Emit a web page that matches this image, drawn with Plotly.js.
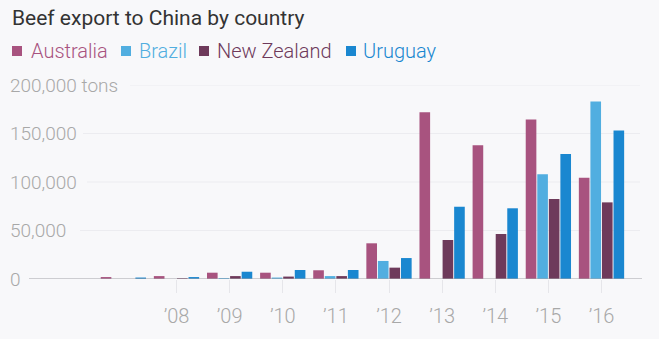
<!DOCTYPE html>
<html>
<head>
<meta charset="utf-8">
<script src="https://cdn.plot.ly/plotly-3.0.1.min.js"></script>
<style>
  html, body { margin: 0; padding: 0; background: #f8f8fa; }
  #chart { width: 659px; height: 339px; }
</style>
</head>
<body>
<div id="chart"></div>
<script>
// ---- data ----
const years = [2007, 2008, 2009, 2010, 2011, 2012, 2013, 2014, 2015, 2016];
const australia  = [2000, 3000, 6500, 6500, 9000, 36800, 172000, 138000, 164500, 104500];
const brazil     = [0, 0, 1000, 1500, 3000, 18600, 0, 0, 108000, 183000];
const newZealand = [0, 800, 3000, 2500, 3000, 11700, 40200, 46400, 82500, 79000];
const uruguay    = [1500, 2000, 7500, 9300, 9300, 21600, 74500, 72900, 128900, 153000];
const seriesNames = ["Australia", "Brazil", "New Zealand", "Uruguay"];

const xTickVals = [2008, 2009, 2010, 2011, 2012, 2013, 2014, 2015, 2016];
const xTickText = ["’08", "’09", "’10", "’11", "’12", "’13", "’14", "’15", "’16"];
const yTickVals = [0, 50000, 100000, 150000, 200000];
const yTickText = ["0", "50,000", "100,000", "150,000", "200,000 tons"];

// ---- styling ----
const W = 659, H = 339;
const M = {l: 12, r: 17, t: 85, b: 60};
const plotW = W - M.l - M.r;
const plotH = H - M.t - M.b;
const colors = ["#a8537f", "#51aee0", "#6e3a5b", "#1a87d0"];
// pixel x where each grid line starts (after its label)
const gridStartPx = [29, 80, 87, 83, 130];
// legend layout (pixels)
const legSquareX = [12, 121, 199, 346];
const legTextX = [29, 137, 215, 361];
const legY = 51;
const FONT = "Roboto, 'Open Sans', sans-serif";

const seriesVals = [australia, brazil, newZealand, uruguay];
const traces = seriesVals.map((vals, i) => ({
  type: "bar",
  x: years,
  y: vals,
  name: seriesNames[i],
  marker: {color: colors[i]},
  showlegend: false,
  hoverinfo: "x+y"
}));

const px2x = p => (p - M.l) / plotW;
const py2y = p => (H - M.b - p) / plotH;

const shapes = yTickVals.map((v, i) => ({
  type: "line",
  xref: "paper", yref: "y",
  x0: px2x(gridStartPx[i]),
  x1: i === 0 ? 1 : px2x(640),
  y0: v, y1: v,
  line: {color: i === 0 ? "#a3a3a8" : "#ececf0", width: 1},
  layer: i === 0 ? "above" : "below"
}));
// legend squares
seriesNames.forEach((n, i) => {
  shapes.push({
    type: "rect", xref: "paper", yref: "paper",
    x0: px2x(legSquareX[i]), x1: px2x(legSquareX[i] + 10),
    y0: py2y(legY + 5), y1: py2y(legY - 5),
    fillcolor: colors[i], line: {width: 0}
  });
});
const annotations = seriesNames.map((n, i) => ({
  xref: "paper", yref: "paper",
  x: px2x(legTextX[i]), xanchor: "left",
  y: py2y(legY), yanchor: "middle",
  text: n, showarrow: false,
  font: {family: FONT, size: 20, color: colors[i], weight: 300}
}));

const layout = {
  width: W, height: H,
  margin: M,
  paper_bgcolor: "#f8f8fa",
  plot_bgcolor: "#f8f8fa",
  font: {family: FONT},
  title: {
    text: "Beef export to China by country",
    font: {family: FONT, size: 21, color: "#333333", weight: 400},
    xref: "container", yref: "container",
    x: 12 / W, xanchor: "left",
    y: 1 - 10 / H, yanchor: "top",
    pad: {t: 0, l: 0}
  },
  showlegend: false,
  barmode: "group",
  bargap: 0.13,
  bargroupgap: 0.08,
  xaxis: {
    range: [2016 + (M.l - 601.5) / 53.125, 2016 + (642 - 601.5) / 53.125],
    tickvals: xTickVals,
    ticktext: xTickText,
    ticks: "outside",
    ticklen: 13,
    tickcolor: "#e6e6ea",
    tickwidth: 1,
    ticklabelstandoff: 6,
    showgrid: false,
    zeroline: false,
    showline: false,
    tickfont: {family: FONT, size: 20, color: "#a8a8a8", weight: 300},
    fixedrange: true
  },
  yaxis: {
    range: [0, 200000],
    tickvals: yTickVals,
    ticktext: yTickText,
    ticklabelposition: "inside",
    ticklabeloverflow: "allow",
    ticklabelstandoff: -5,
    ticks: "",
    showgrid: false,
    zeroline: false,
    showline: false,
    tickfont: {family: FONT, size: 19, color: "#a8a8a8", weight: 300},
    fixedrange: true
  },
  shapes: shapes,
  annotations: annotations
};

Plotly.newPlot("chart", traces, layout, {displayModeBar: false, staticPlot: true});
</script>
</body>
</html>
